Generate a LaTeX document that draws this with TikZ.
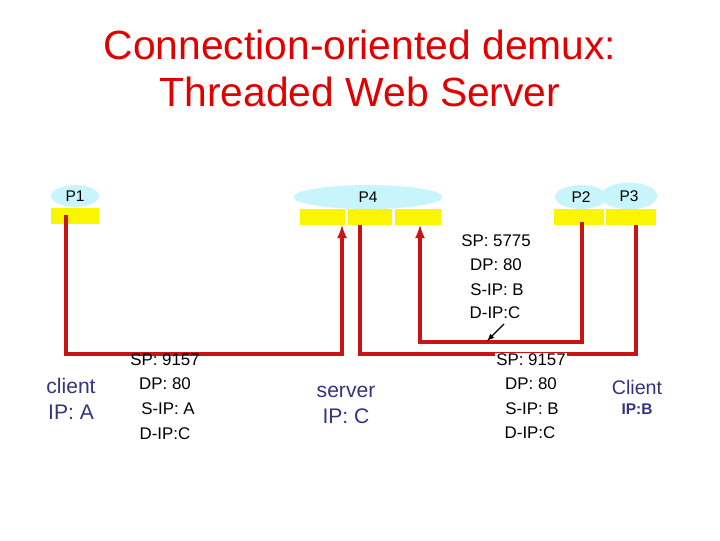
\documentclass[tikz,border=0pt]{standalone}
\usepackage{fontspec}
\setmainfont{Liberation Sans}
\usepackage{tikz}
\usetikzlibrary{arrows,positioning,calc,shapes.geometric}
\definecolor{procblue}{RGB}{200,244,251}
\definecolor{sockyellow}{RGB}{250,245,0}
\definecolor{linered}{RGB}{200,20,20}
\definecolor{titlered}{RGB}{225,0,0}
\definecolor{hostblue}{RGB}{51,51,128}

\begin{document}
\begin{tikzpicture}[x=0.025cm,y=-0.025cm,
  proc/.style={ellipse,fill=procblue,inner sep=0pt,font=\fontsize{11}{13}\selectfont},
  sock/.style={fill=sockyellow,inner sep=0pt,minimum height=11.3pt},
  hdr/.style={font=\fontsize{12}{14}\selectfont,inner sep=1pt},
  host/.style={text=hostblue,font=\fontsize{15}{18}\selectfont,align=center},
  conn/.style={linered,line width=2.2pt},
  >=latex]
\useasboundingbox (0,0) rectangle (720,540);

% title
\node[text=titlered,font=\fontsize{29}{35}\selectfont] (title1) at (360,45) {Connection-oriented demux:};
\node[text=titlered,font=\fontsize{29}{35}\selectfont] (title2) at (360,92) {Threaded Web Server};

% processes
\node[proc,minimum width=34pt,minimum height=15.6pt] (p1) at (75,196) {P1};
\node[proc,minimum width=106pt,minimum height=17pt] (p4) at (368,197) {P4};
\node[proc,minimum width=37pt,minimum height=17pt] (p2) at (581,197) {P2};
\node[proc,minimum width=40pt,minimum height=19pt] (p3) at (629,196) {P3};

% sockets
\node[sock,minimum width=34pt] (s1) at (75,216) {};
\node[sock,minimum width=32pt] (s4a) at (322,217) {};
\node[sock,minimum width=31pt] (s4b) at (370,217) {};
\node[sock,minimum width=32.6pt] (s4c) at (418,217) {};
\node[sock,minimum width=36pt] (s2) at (579,217) {};
\node[sock,minimum width=36pt] (s3) at (631,217) {};

% connections
\coordinate (c1) at (66,215);
\coordinate (c4a) at (342,225);
\draw[conn,->] (c1) |- (342,354) -- (c4a);

\coordinate (c3) at (636,225);
\coordinate (c4b) at (360,225);
\draw[conn] (c3) |- (360,354) -- (c4b);

\coordinate (c2) at (582,222);
\coordinate (c4c) at (420,225);
\draw[conn,->] (c2) |- (420,342) -- (c4c);

% headers
\node[hdr] (l1) at (165,360) {SP: 9157};
\node[hdr] (l2) at (165,384) {DP: 80};
\node[hdr] (l3) at (168,409) {S-IP: A};
\node[hdr] (l4) at (165,434) {D-IP:C};

\node[hdr,fill=white] (r1) at (531,360) {SP: 9157};
\node[hdr] (r2) at (531,384) {DP: 80};
\node[hdr] (r3) at (532,409) {S-IP: B};
\node[hdr] (r4) at (530,433) {D-IP:C};

\node[hdr] (u1) at (496,241) {SP: 5775};
\node[hdr] (u2) at (496,265) {DP: 80};
\node[hdr] (u3) at (497,290) {S-IP: B};
\node[hdr] (u4) at (495,313) {D-IP:C};
\coordinate (tip) at (487,341);
\draw[->,thick] (504,324) -- (tip);

% hosts
\node[host] (ca) at (71,399) {client\\IP: A};
\node[host] (sc) at (346,405) {server\\IP: C};
\node[host,font=\fontsize{14}{16}\selectfont] (cb) at (637,387) {Client};
\node[text=hostblue,font=\bfseries\fontsize{11}{13}\selectfont] (cbip) at (637,409) {IP:B};
\end{tikzpicture}
\end{document}
